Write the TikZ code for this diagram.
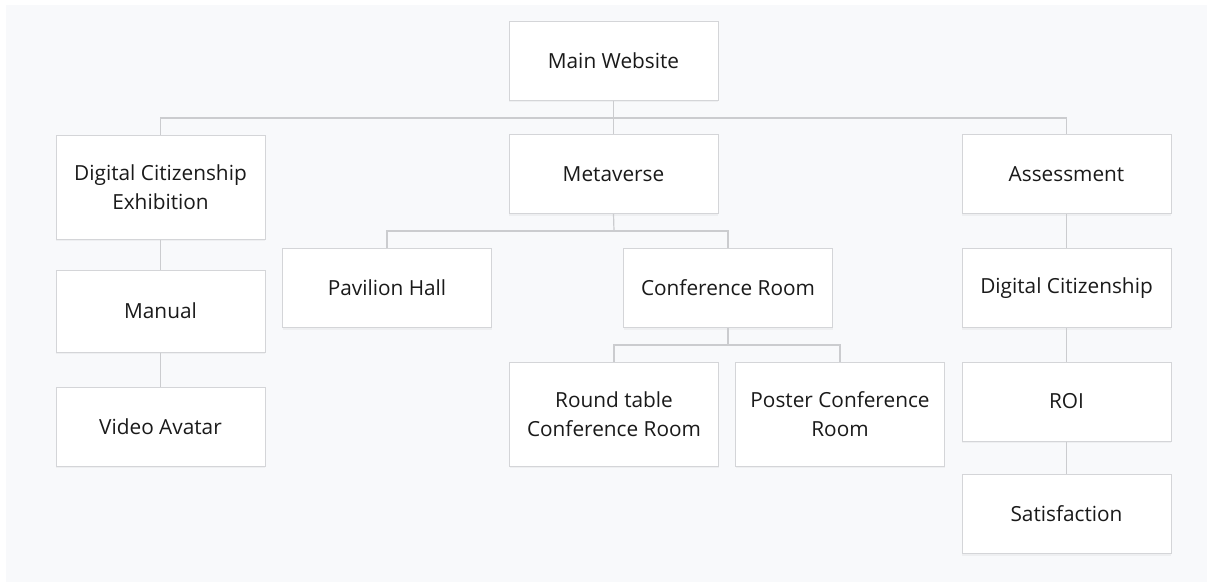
\documentclass[tikz,border=0pt]{standalone}
\usepackage{fontspec}
\setmainfont{Open Sans}
\usetikzlibrary{shadows}
\begin{document}
\begin{tikzpicture}[x=1pt,y=-1pt,
  box/.style={draw=boxline, fill=white, line width=1pt, minimum width=209pt, minimum height=79pt,
    align=center, inner sep=0pt, font=\fontsize{20.8}{29}\selectfont, text=textcol,
    drop shadow={shadow xshift=0pt, shadow yshift=-2pt, opacity=0.08}},
  tall/.style={minimum height=104pt},
  conn/.style={draw=connline, line width=1.2pt}]
\definecolor{bg}{HTML}{F8F9FB}
\definecolor{boxline}{HTML}{D4D5D8}
\definecolor{connline}{HTML}{CBCCCF}
\definecolor{textcol}{HTML}{1A1A1A}
\useasboundingbox (0,0) rectangle (1207,581);
\fill[bg] (6,5) rectangle (1208,582);
\coordinate (hTop) at (613.5,118);
\coordinate (hL) at (160.5,118);
\coordinate (hR) at (1066.5,118);
\coordinate (mL) at (387,231);
\coordinate (mR) at (728,231);
\coordinate (mC) at (614,231);
\coordinate (cL) at (614,345);
\coordinate (cR) at (840,345);
\coordinate (cC) at (728,345);
\node[box] (main) at (613.5,60.5) {Main Website};
\node[box,tall] (dce) at (160.5,187) {Digital Citizenship\\Exhibition};
\node[box] (meta) at (613.5,174) {Metaverse};
\node[box] (assess) at (1066.5,174) {Assessment};
\node[box,minimum height=82pt] (manual) at (160.5,311) {Manual};
\node[box] (video) at (160.5,426.5) {Video Avatar};
\node[box] (pav) at (387,288) {Pavilion Hall};
\node[box] (conf) at (728,288) {Conference Room};
\node[box,tall] (round) at (614,414) {Round table\\Conference Room};
\node[box,tall] (poster) at (840,414) {Poster Conference\\Room};
\node[box] (dc) at (1066.5,288) {Digital Citizenship};
\node[box] (roi) at (1066.5,401.5) {ROI};
\node[box] (sat) at (1066.5,514) {Satisfaction};
\draw[conn] (main.south) -- (hTop);
\draw[conn] (dce.north) -- (hL) -- (hR) -- (assess.north);
\draw[conn] (hTop) -- (meta.north);
\draw[conn] (meta.south) -- (mC);
\draw[conn] (pav.north) -- (mL) -- (mR) -- (conf.north);
\draw[conn] (conf.south) -- (cC);
\draw[conn] (round.north) -- (cL) -- (cR) -- (poster.north);
\draw[conn] (dce.south) -- (manual.north);
\draw[conn] (manual.south) -- (video.north);
\draw[conn] (assess.south) -- (dc.north);
\draw[conn] (dc.south) -- (roi.north);
\draw[conn] (roi.south) -- (sat.north);
\end{tikzpicture}
\end{document}
